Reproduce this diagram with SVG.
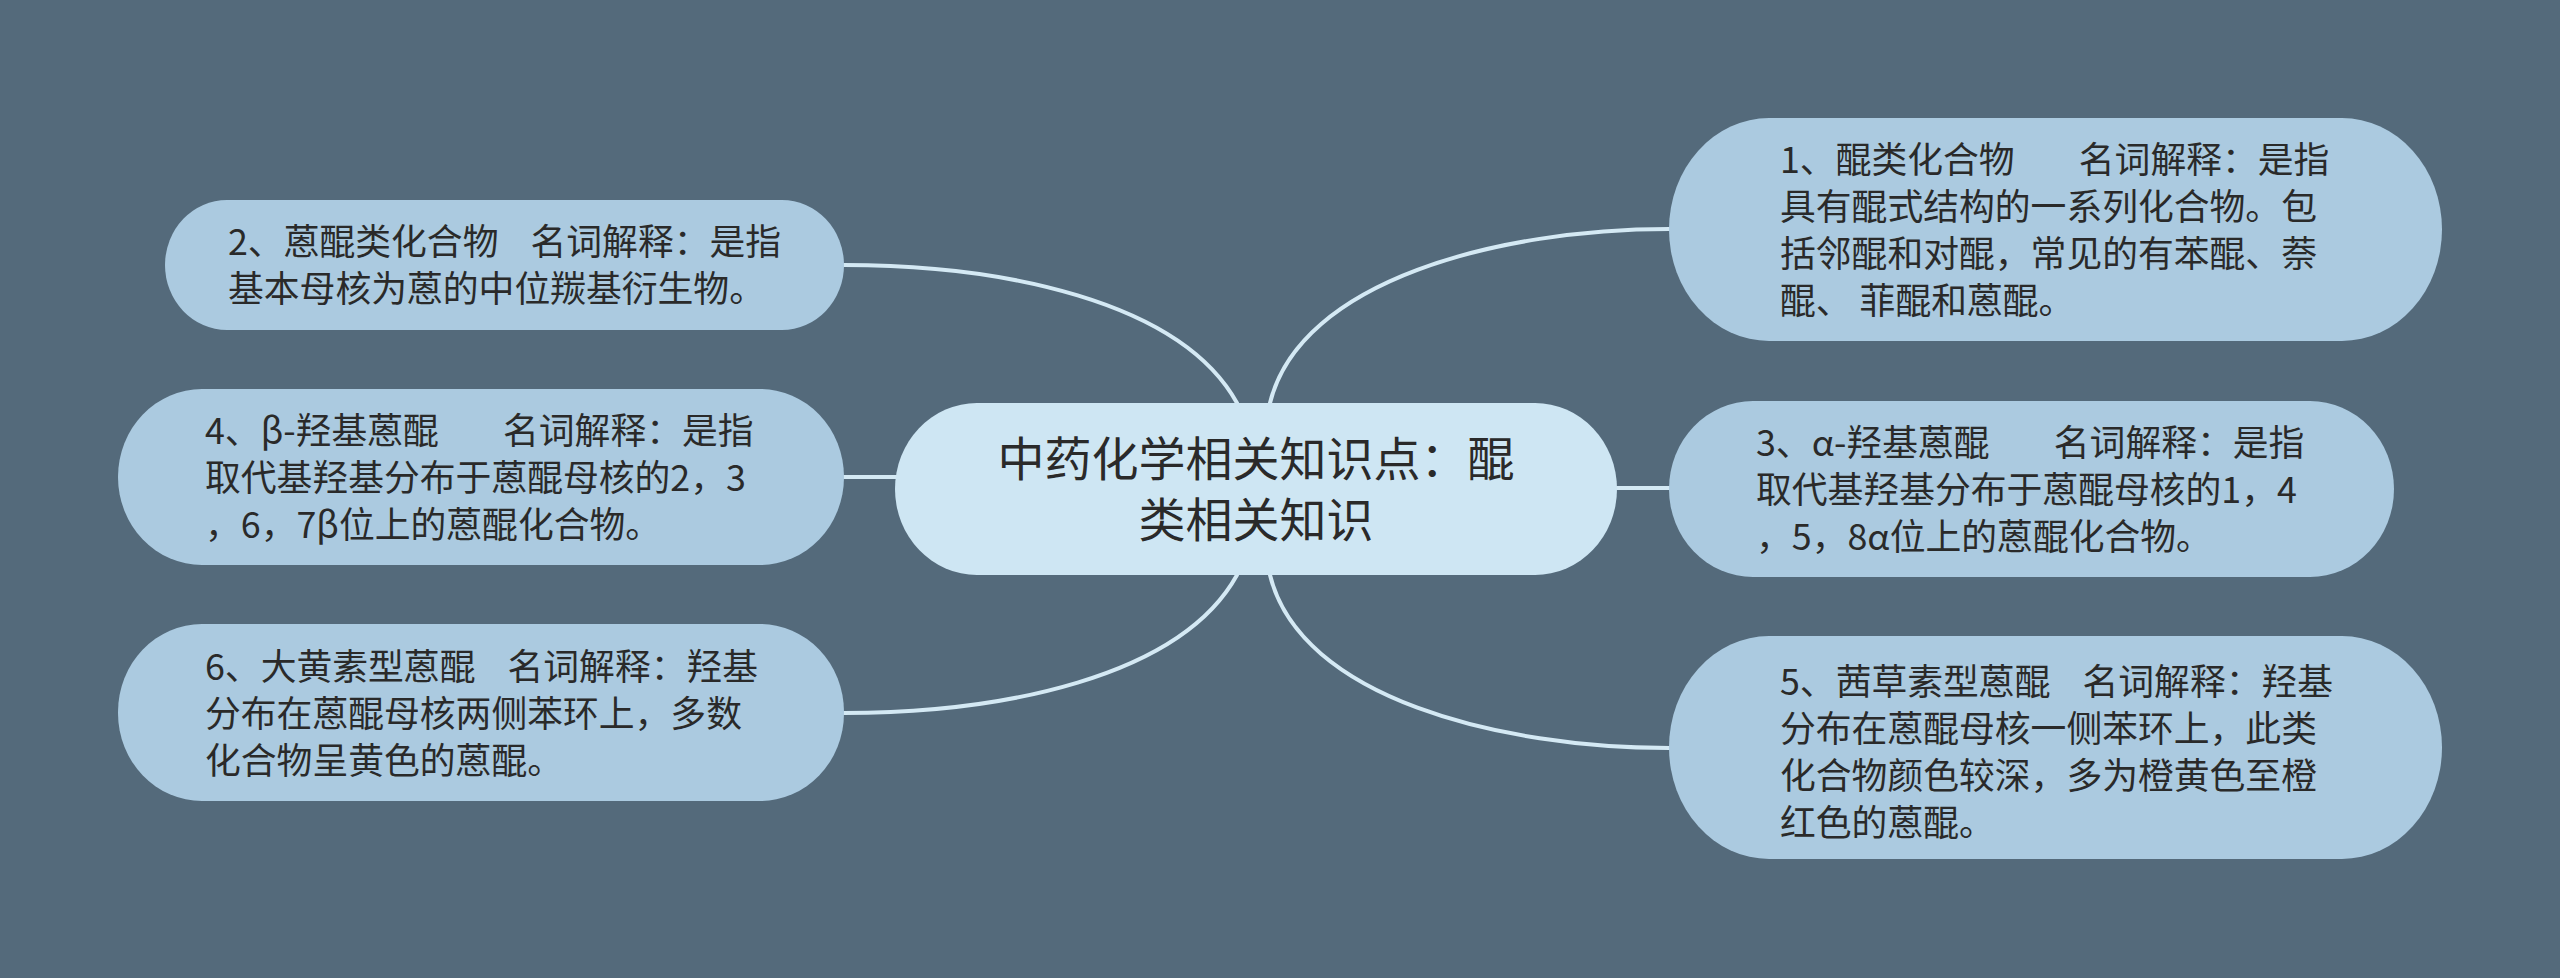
<svg xmlns="http://www.w3.org/2000/svg" width="2560" height="978" viewBox="0 0 2560 978">
<style>
.bg{fill:#546a7b}
.leaf{fill:#abcae0}
.root{fill:#cee6f3}
.edge{fill:none;stroke:#d4e9f4;stroke-width:4;stroke-linecap:round}
text{font-family:'Noto Sans CJK SC','Noto Sans',sans-serif;fill:#2a2a2a}
.t{font-size:35.8px}
.rt{font-size:47px}
</style>
<rect class="bg" x="0" y="0" width="2560" height="978"/>
<g id="connectors">
<path class="edge" d="M 844 265 C 1000 265, 1180 300, 1237 403"/>
<path class="edge" d="M 844 713 C 1000 713, 1180 678, 1237 575"/>
<path class="edge" d="M 1669 229 C 1500 229, 1300 280, 1270 403"/>
<path class="edge" d="M 1669 748 C 1500 748, 1300 698, 1270 575"/>
<path class="edge" d="M 843 477 L 897 477"/>
<path class="edge" d="M 1615 488 L 1670 488"/>
</g>
<g id="root">
<rect class="root" x="895" y="403" width="722" height="172" rx="82" ry="86"/>
<text class="rt" text-anchor="middle"><tspan x="1256" y="476">中药化学相关知识点：醌</tspan><tspan x="1256" y="537">类相关知识</tspan></text>
</g>
<g id="node1">
<rect class="leaf" x="1669" y="118" width="773" height="223" rx="100" ry="111.5"/>
<text class="t" xml:space="preserve"><tspan x="1780" y="173">1、醌类化合物        名词解释：是指</tspan><tspan x="1780" y="220">具有醌式结构的一系列化合物。包</tspan><tspan x="1780" y="267">括邻醌和对醌，常见的有苯醌、萘</tspan><tspan x="1780" y="314">醌、 菲醌和蒽醌。</tspan></text>
</g>
<g id="node2">
<rect class="leaf" x="165" y="200" width="679" height="130" rx="62" ry="65"/>
<text class="t" xml:space="preserve"><tspan x="228" y="255">2、蒽醌类化合物    名词解释：是指</tspan><tspan x="228" y="302">基本母核为蒽的中位羰基衍生物。</tspan></text>
</g>
<g id="node3">
<rect class="leaf" x="1669" y="401" width="725" height="176" rx="84" ry="88"/>
<text class="t" xml:space="preserve"><tspan x="1756" y="456">3、α-羟基蒽醌        名词解释：是指</tspan><tspan x="1756" y="503">取代基羟基分布于蒽醌母核的1，4</tspan><tspan x="1756" y="550">，5，8α位上的蒽醌化合物。</tspan></text>
</g>
<g id="node4">
<rect class="leaf" x="118" y="389" width="726" height="176" rx="84" ry="88"/>
<text class="t" xml:space="preserve"><tspan x="205" y="444">4、β-羟基蒽醌        名词解释：是指</tspan><tspan x="205" y="491">取代基羟基分布于蒽醌母核的2，3</tspan><tspan x="205" y="538">，6，7β位上的蒽醌化合物。</tspan></text>
</g>
<g id="node5">
<rect class="leaf" x="1669" y="636" width="773" height="223" rx="100" ry="111.5"/>
<text class="t" xml:space="preserve"><tspan x="1780" y="695">5、茜草素型蒽醌    名词解释：羟基</tspan><tspan x="1780" y="742">分布在蒽醌母核一侧苯环上，此类</tspan><tspan x="1780" y="789">化合物颜色较深，多为橙黄色至橙</tspan><tspan x="1780" y="836">红色的蒽醌。</tspan></text>
</g>
<g id="node6">
<rect class="leaf" x="118" y="624" width="726" height="177" rx="84" ry="88"/>
<text class="t" xml:space="preserve"><tspan x="205" y="680">6、大黄素型蒽醌    名词解释：羟基</tspan><tspan x="205" y="727">分布在蒽醌母核两侧苯环上，多数</tspan><tspan x="205" y="774">化合物呈黄色的蒽醌。</tspan></text>
</g>
</svg>
